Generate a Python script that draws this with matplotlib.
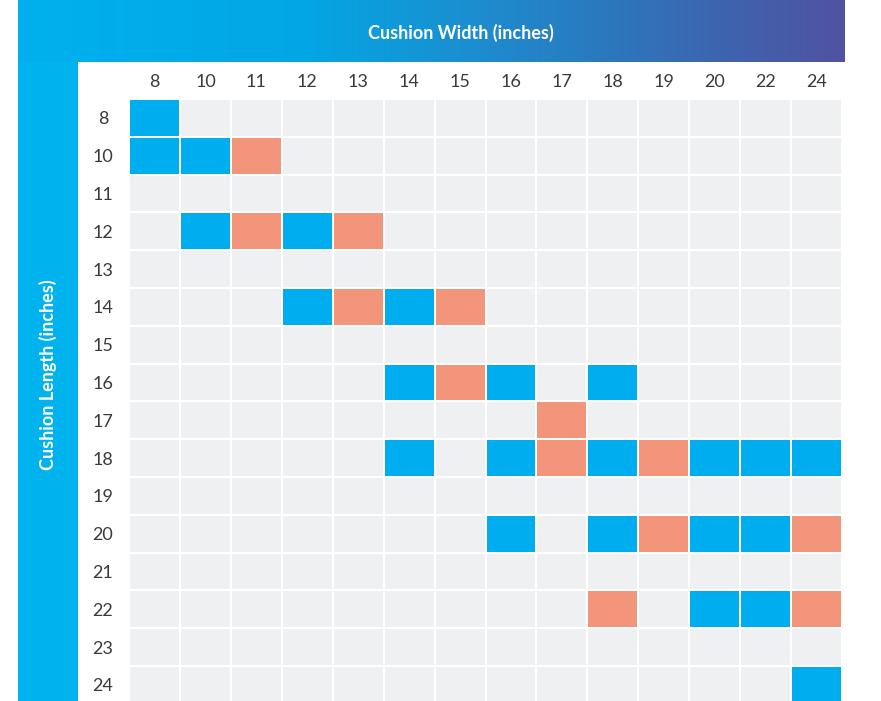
import numpy as np
import matplotlib.pyplot as plt
from matplotlib.patches import Rectangle
from matplotlib.colors import LinearSegmentedColormap

plt.rcParams['font.family'] = ['Lato', 'DejaVu Sans']

# sizes in inches
widths = [8, 10, 11, 12, 13, 14, 15, 16, 17, 18, 19, 20, 22, 24]
lengths = [8, 10, 11, 12, 13, 14, 15, 16, 17, 18, 19, 20, 21, 22, 23, 24]

# (length, width) pairs available
blue_cells = [(8, 8), (10, 8), (10, 10), (12, 10), (12, 12), (14, 12), (14, 14),
              (16, 14), (16, 16), (16, 18), (18, 14), (18, 16), (18, 18), (18, 20),
              (18, 22), (18, 24), (20, 16), (20, 18), (20, 20), (20, 22),
              (22, 20), (22, 22), (24, 24)]
salmon_cells = [(10, 11), (12, 11), (12, 13), (14, 13), (14, 15), (16, 15),
                (17, 17), (18, 17), (18, 19), (20, 19), (20, 24), (22, 18), (22, 24)]

BLUE = "#00AEEF"
SALMON = "#F2957A"
GREY = "#EFF0F2"
TEXT = "#3a3a3a"

W, H = 881, 701
fig = plt.figure(figsize=(W / 100, H / 100), dpi=100)
fig.patch.set_facecolor("white")


def px_axes(x0, y0, x1, y1):
    # axes from pixel box (top-left origin)
    return fig.add_axes([x0 / W, 1 - y1 / H, (x1 - x0) / W, (y1 - y0) / H])


# top banner with gradient
cmap = LinearSegmentedColormap.from_list(
    "band", [(0, "#00B1EE"), (0.35, "#03A6E4"), (0.55, "#1C8ECF"),
             (0.72, "#2C77BD"), (0.86, "#3F63AE"), (1, "#5053A1")])
top = px_axes(18, 0, 845, 62)
top.imshow(np.linspace(0, 1, 256)[None, :], aspect="auto", cmap=cmap,
           extent=(0, 1, 0, 1))
top.set_axis_off()
top.text(0.536, 0.47, "Cushion Width (inches)", color="white", fontsize=13,
         fontweight="bold", ha="center", va="center", transform=top.transAxes)

# left banner
left = px_axes(18, 62, 78, 701)
left.add_patch(Rectangle((0, 0), 1, 1, color="#00B2EE", transform=left.transAxes))
left.set_axis_off()
left.text(0.5, 0.51, "Cushion Length (inches)", color="white", fontsize=13,
          fontweight="bold", ha="center", va="center", rotation=90,
          transform=left.transAxes)

# grid
pitch_x, pitch_y = 50.93, 37.8
ncol, nrow = len(widths), len(lengths)
ax = px_axes(130, 100, 130 + ncol * pitch_x, 100 + nrow * pitch_y)
ax.set_xlim(0, ncol)
ax.set_ylim(nrow, 0)
ax.set_axis_off()

gx = 2 / pitch_x
gy = 2 / pitch_y
colors = {}
for c in blue_cells:
    colors[c] = BLUE
for c in salmon_cells:
    colors[c] = SALMON

for i, ln in enumerate(lengths):
    for j, wd in enumerate(widths):
        fc = colors.get((ln, wd), GREY)
        ax.add_patch(Rectangle((j, i), 1 - gx, 1 - gy, facecolor=fc,
                               edgecolor="none", clip_on=False))

for j, wd in enumerate(widths):
    ax.text(j + (1 - gx) / 2, -18 / pitch_y, str(wd), ha="center", va="center",
            fontsize=13, color=TEXT, clip_on=False)
for i, ln in enumerate(lengths):
    ax.text(-27 / pitch_x, i + (1 - gy) / 2 + 1.5 / pitch_y, str(ln), ha="center",
            va="center", fontsize=13, color=TEXT, clip_on=False)

fig.savefig("out.png", dpi=100)
